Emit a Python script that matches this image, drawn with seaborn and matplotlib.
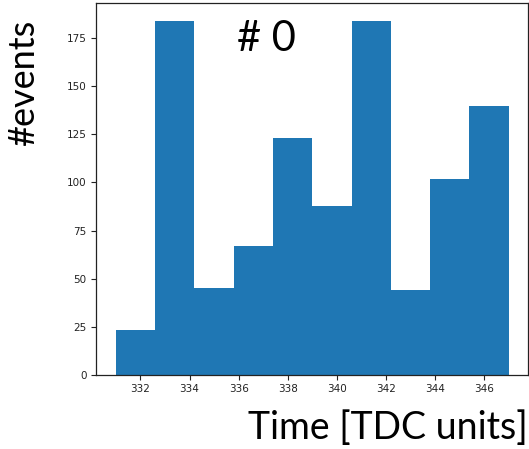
import numpy as np
import matplotlib
matplotlib.use("Agg")
import matplotlib.pyplot as plt
import seaborn as sns

# Histogram of TDC times, 10 bins between 331 and 347
bin_edges = [331.0, 332.6, 334.2, 335.8, 337.4, 339.0, 340.6, 342.2, 343.8, 345.4, 347.0]
counts = [23, 184, 45, 67, 123, 88, 184, 44, 102, 140]
xticks = [332, 334, 336, 338, 340, 342, 344, 346]
yticks = [0, 25, 50, 75, 100, 125, 150, 175]

sns.set_style("ticks")
plt.rcParams["font.family"] = ["DejaVu Sans"]

fig = plt.figure(figsize=(5.29, 4.49), dpi=100)
ax = fig.add_axes([0.182, 0.1655, 0.8167, 0.8271])

centers = [(a + b) / 2 for a, b in zip(bin_edges[:-1], bin_edges[1:])]
sns.histplot(x=centers, weights=counts, bins=bin_edges, ax=ax,
             color="#1f77b4", alpha=1.0, edgecolor="none", linewidth=0)

ax.set_xlim(330.2, 347.8)
ax.set_ylim(0, max(counts) * 1.05)
ax.set_xticks(xticks)
ax.set_yticks(yticks)
ax.tick_params(labelsize=7.5, length=3.5, width=0.8, colors="#222222")
for s in ax.spines.values():
    s.set_visible(True)
    s.set_color("#222222")
    s.set_linewidth(0.9)
ax.set_xlabel("")
ax.set_ylabel("")

big = ["Lato", "DejaVu Sans"]
fig.text(0.997, 0.006, "Time [TDC units]", family=big, fontsize=27,
         ha="right", va="bottom", color="black")
fig.text(0.014, 0.815, "#events", family=big, fontsize=26, rotation=90,
         ha="left", va="center", color="black")
ax.text(0.393, 0.905, "# 0", transform=ax.transAxes, family=big, fontsize=30,
        ha="center", va="center", color="black")

fig.savefig("out.png", dpi=100)
